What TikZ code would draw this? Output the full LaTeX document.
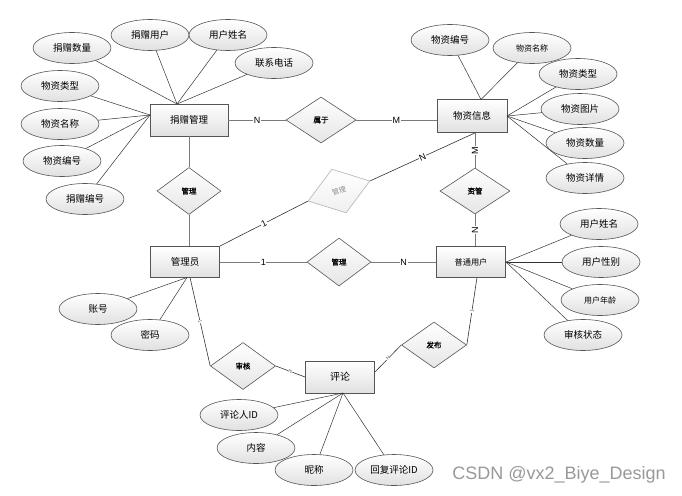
\documentclass[tikz,border=0pt]{standalone}
\usepackage{fontspec}
\setmainfont{Noto Sans CJK SC}
\newfontfamily\cjkb{Noto Sans CJK SC}[FakeBold=1.2]
\newfontfamily\latin{Liberation Sans}
\usetikzlibrary{shapes.geometric}
\definecolor{edge}{HTML}{555555}
\definecolor{aline}{HTML}{333333}
\definecolor{rline}{HTML}{7A7A7A}
\tikzset{
  ent/.style={rectangle, draw=edge, line width=0.8pt, top color=white, bottom color=black!12, minimum width=70, minimum height=32, inner sep=0pt, font=\fontsize{9.5}{10}\selectfont},
  attr/.style={ellipse, draw=edge, line width=0.6pt, top color=white, bottom color=black!12, minimum width=78, minimum height=31, inner sep=0pt, font=\fontsize{9.5}{10}\selectfont},
  rel/.style={diamond, draw=edge, line width=0.6pt, top color=white, bottom color=black!10, minimum width=65, minimum height=47, inner sep=0pt, font=\cjkb\fontsize{7.5}{8}\selectfont},
  al/.style={draw=aline, line width=0.5pt},
  rl/.style={draw=rline, line width=0.9pt},
  lab/.style={fill=white, inner sep=0.6pt, text=black, font=\latin\fontsize{9}{9}\selectfont},
  tlab/.style={fill=white, inner sep=0.3pt, text=black!60, font=\latin\fontsize{5}{5}\selectfont},
}
\begin{document}
\begin{tikzpicture}[x=1pt,y=-1pt]
\useasboundingbox[fill=white] (0,0) rectangle (682,495);
% entities
\node[ent, minimum width=78] (jz) at (189,120) {捐赠管理};
\node[ent, minimum height=33] (wz) at (472,116) {物资信息};
\node[ent, minimum width=69, minimum height=31] (gly) at (185,262) {管理员};
\node[ent, minimum width=69, minimum height=31, font=\fontsize{8.2}{9}\selectfont] (pt) at (471,262) {普通用户};
\node[ent, minimum width=69, font=\fontsize{10}{11}\selectfont] (pl) at (340,377) {评论};
% relationships
\node[rel, minimum width=70, minimum height=46] (sy) at (321,120) {属于};
\node[rel, minimum width=64] (gla) at (189,191) {管理};
\node[rel, minimum width=70, minimum height=46] (zg) at (475,191) {资管};
\node[rel, rotate=18, draw=black!30, text=black!45, bottom color=black!6, minimum height=46, font=\fontsize{7}{8}\selectfont] (fd) at (339,191) {管理};
\node[rel, minimum width=64, minimum height=48] (glb) at (339,262) {管理};
\node[rel] (sh) at (243,366) {审核};
\node[rel, minimum height=46] (fb) at (434,345) {发布};
% attributes of 捐赠管理
\node[attr] (a1) at (72,48) {捐赠数量};
\node[attr] (a2) at (150,35) {捐赠用户};
\node[attr] (a3) at (228,35) {用户姓名};
\node[attr] (a4) at (274,63) {联系电话};
\node[attr] (a5) at (60,86) {物资类型};
\node[attr] (a6) at (60,124) {物资名称};
\node[attr] (a7) at (62,161) {物资编号};
\node[attr] (a8) at (85,199) {捐赠编号};
% attributes of 物资信息
\node[attr] (b1) at (450,40) {物资编号};
\node[attr, font=\fontsize{8}{9}\selectfont] (b2) at (532,48) {物资名称};
\node[attr] (b3) at (578,74) {物资类型};
\node[attr] (b4) at (580,109) {物资图片};
\node[attr] (b5) at (585,143) {物资数量};
\node[attr] (b6) at (585,178) {物资详情};
% attributes of 普通用户
\node[attr] (c1) at (599,224) {用户姓名};
\node[attr] (c2) at (601,262) {用户性别};
\node[attr, font=\fontsize{8}{9}\selectfont] (c3) at (600,300) {用户年龄};
\node[attr] (c4) at (583,335) {审核状态};
% attributes of 管理员
\node[attr] (d1) at (98,309) {账号};
\node[attr] (d2) at (150,335) {密码};
% attributes of 评论
\node[attr] (e1) at (239,415) {评论人ID};
\node[attr] (e2) at (256,448) {内容};
\node[attr] (e3) at (314,470) {昵称};
\node[attr] (e4) at (394,470) {回复评论ID};
% convergence points
\coordinate (jzT) at (177,104);
\coordinate (jzL) at (150,115);
\coordinate (wzT) at (481,99.5);
\coordinate (wzR) at (507,116);
\coordinate (ptR) at (506,262);
\coordinate (glyB) at (187,277.5);
\coordinate (glyS) at (190,277.5);
\coordinate (plB) at (343,393);
\coordinate (plR) at (375,372);
\coordinate (ptB) at (477,277.5);
% attribute lines
\foreach \n in {a1,a2,a3,a4} \draw[al] (\n) -- (jzT);
\foreach \n in {a5,a6,a7,a8} \draw[al] (\n) -- (jzL);
\foreach \n in {b1,b2} \draw[al] (\n) -- (wzT);
\foreach \n in {b3,b4,b5,b6} \draw[al] (\n) -- (wzR);
\foreach \n in {c1,c2,c3,c4} \draw[al] (\n) -- (ptR);
\foreach \n in {d1,d2} \draw[al] (\n) -- (glyB);
\foreach \n in {e1,e2,e3,e4} \draw[al] (\n) -- (plB);
% relationship lines
\draw[rl] (jz.east) -- node[lab]{N} (sy.west);
\draw[rl] (sy.east) -- node[lab]{M} (sy.east -| wz.west);
\draw[rl] (gla.north) -- (gla.north |- jz.south);
\draw[rl] (gla.south) -- (gla.south |- gly.north);
\draw[rl] (zg.north |- wz.south) -- node[lab, rotate=90]{M} (zg.north);
\draw[rl] (zg.south) -- node[lab, rotate=90]{N} (zg.south |- pt.north);
\draw[al, line width=0.6pt] (gly.north east) -- node[lab, sloped]{1} (fd.west);
\draw[al, line width=0.6pt] (fd.east) -- node[lab, sloped]{N} (zg.north |- wz.south);
\draw[rl] (gly.east) -- node[lab]{1} (glb.west);
\draw[rl] (glb.east) -- node[lab]{N} (pt.west);
\draw[al, line width=0.6pt] (glyS) -- node[tlab, sloped]{1} (sh.west);
\draw[al, line width=0.6pt] (sh.east) -- node[tlab, sloped]{N} (pl.west);
\draw[al, line width=0.6pt] (plR) -- node[tlab, sloped]{N} (fb.west);
\draw[al, line width=0.6pt] (fb.east) -- node[tlab, sloped]{1} (ptB);
% watermark
\node[text=black!40, font=\latin\fontsize{18}{18}\selectfont, inner sep=0pt] (wm) at (559,475) {CSDN @vx2\_Biye\_Design};
\end{tikzpicture}
\end{document}
